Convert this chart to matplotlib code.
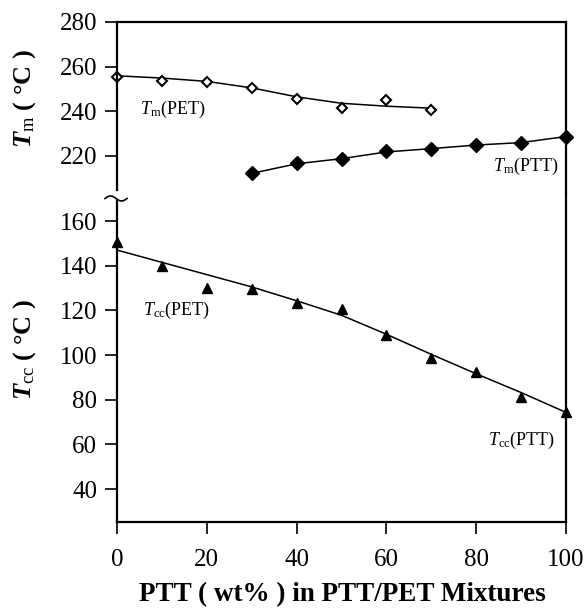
import numpy as np
import matplotlib
matplotlib.use("Agg")
import matplotlib.pyplot as plt
from matplotlib.lines import Line2D

plt.rcParams["font.family"] = "Liberation Serif"
plt.rcParams["mathtext.fontset"] = "custom"
plt.rcParams["mathtext.rm"] = "Liberation Serif"
plt.rcParams["mathtext.it"] = "Liberation Serif:italic"
plt.rcParams["mathtext.bf"] = "Liberation Serif:bold"
plt.rcParams["mathtext.bfit"] = "Liberation Serif:italic:bold"

# melting points (upper panel)
x_pet = [0, 10, 20, 30, 40, 50, 60, 70]
tm_pet = [255.5, 253.7, 253.3, 250.4, 245.5, 241.3, 244.9, 240.5]
tm_pet_fit = [255.9, 254.9, 253.4, 250.5, 246.5, 243.6, 242.3, 241.4]

x_ptt = [30, 40, 50, 60, 70, 80, 90, 100]
tm_ptt = [212.2, 216.7, 218.6, 222.2, 223.3, 224.8, 225.7, 228.7]
tm_ptt_fit = [212.2, 216.5, 218.8, 221.8, 223.3, 224.9, 226.0, 228.7]

# cold crystallisation (lower panel)
x_cc = [0, 10, 20, 30, 40, 50, 60, 70, 80, 90, 100]
tcc = [150.4, 139.7, 130.0, 129.4, 123.5, 120.4, 108.8, 98.8, 92.5, 81.0, 74.4]
tcc_fit = [147.0, 141.5, 136.0, 130.5, 124.3, 117.8, 109.3, 100.3, 91.6, 83.2, 74.3]

xticks = [0, 20, 40, 60, 80, 100]
yticks_top = [220, 240, 260, 280]
yticks_bot = [40, 60, 80, 100, 120, 140, 160]

W, H = 586, 608
fg = plt.figure(figsize=(W / 100, H / 100), dpi=100)


def fx(px):
    return px / W


def fy(py):
    return 1 - py / H


left, right, top, brk, bottom = 117, 566, 22, 194, 522
ppu = 2.233  # pixels per degree, same in both panels

ax_t = fg.add_axes([fx(left), fy(brk), fx(right - left), (brk - top) / H])
ax_b = fg.add_axes([fx(left), fy(bottom), fx(right - left), (bottom - brk) / H])

ax_t.set_ylim(280 - (brk - top) / ppu, 280)
ylo = 40 - (bottom - 489) / ppu
ax_b.set_ylim(ylo, ylo + (bottom - brk) / ppu)
for a in (ax_t, ax_b):
    a.set_xlim(0, 100)
    for s in a.spines.values():
        s.set_linewidth(1.6)
    a.tick_params(direction="out", length=8.3, width=1.2, labelsize=18,
                  top=False, right=False)

ax_t.spines["bottom"].set_visible(False)
ax_b.spines["top"].set_visible(False)
ax_t.spines["left"].set_bounds(220 - (190 - 156) / ppu, 280)
ax_b.spines["left"].set_bounds(ylo, 160 + (221 - 201) / ppu)

ax_t.set_yticks(yticks_top)
ax_t.set_xticks([])
ax_b.set_yticks(yticks_bot)
ax_b.set_xticks(xticks)
ax_b.tick_params(axis="x", pad=11)
ax_t.tick_params(axis="y", pad=6)
ax_b.tick_params(axis="y", pad=6)

# %% Tm
ax_t.plot(x_pet, tm_pet_fit, color="k", lw=1.1)
ax_t.plot(x_pet, tm_pet, linestyle="none", marker="D", ms=5.5, mfc="w",
          mec="k", mew=1.5, clip_on=False)
ax_t.plot(x_ptt, tm_ptt_fit, color="k", lw=1.1)
ax_t.plot(x_ptt, tm_ptt, linestyle="none", marker="D", ms=7, color="k",
          clip_on=False)

# %% Tcc
ax_b.plot(x_cc, tcc_fit, color="k", lw=1.1)
ax_b.plot(x_cc, tcc, linestyle="none", marker="^", ms=7.5, color="k",
          clip_on=False)

ax_t.text(5.1, 241.0, r"$\mathit{T}_{\mathrm{m}}$(PET)", fontsize=13, va="center")
ax_t.text(83.7, 215.1, r"$\mathit{T}_{\mathrm{m}}$(PTT)", fontsize=13, va="center")
ax_b.text(5.8, 120.1, r"$\mathit{T}_{\mathrm{cc}}$(PET)", fontsize=13, va="center")
ax_b.text(82.6, 61.9, r"$\mathit{T}_{\mathrm{cc}}$(PTT)", fontsize=13, va="center")

# axis break mark on the left spine
tt = np.linspace(0, 1, 40)
fg.add_artist(Line2D(fx(105 + 22 * tt), fy(198.5 - 2.5 * np.sin(2 * np.pi * tt)),
                     color="k", lw=1.2))

fg.text(fx(25), fy(98), r"$\mathbfit{T}_{\mathrm{m}}$ ( °C )", rotation=90,
        fontsize=19, fontweight="bold", ha="center", va="center")
fg.text(fx(25), fy(349), r"$\mathbfit{T}_{\mathrm{cc}}$ ( °C )", rotation=90,
        fontsize=19, fontweight="bold", ha="center", va="center")
fg.text(fx(342), fy(595), "PTT ( wt% ) in PTT/PET Mixtures", fontsize=19.5,
        fontweight="bold", ha="center", va="center")

fg.savefig("out.png", dpi=100)
